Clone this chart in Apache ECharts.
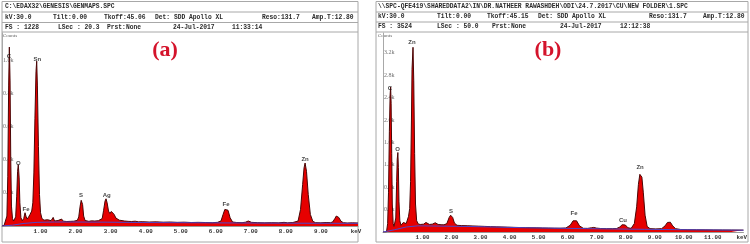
<!DOCTYPE html>
<html><head><meta charset="utf-8">
<script src="https://cdn.jsdelivr.net/npm/echarts@6/dist/echarts.min.js"></script>
<style>html,body{margin:0;padding:0;background:#fff}#c{width:750px;height:244px}</style>
</head><body><div id="c"></div>
<script>
// ---------- Panel (a) data ----------
const energyA = [0.00,0.06,0.11,0.14,0.165,0.19,0.21,0.23,0.25,0.27,0.30,0.33,0.36,0.39,0.42,0.445,0.465,0.49,0.51,0.54,0.58,0.62,0.657,0.69,0.72,0.76,0.80,0.848,0.88,0.91,0.94,0.97,0.99,1.01,1.04,1.07,1.10,1.14,1.20,1.25,1.30,1.35,1.40,1.46,1.50,1.55,1.60,1.65,1.70,1.75,1.80,1.85,1.90,1.95,2.00,2.05,2.10,2.15,2.19,2.23,2.26,2.275,2.30,2.33,2.37,2.42,2.48,2.55,2.60,2.65,2.70,2.75,2.80,2.86,2.90,2.94,2.969,3.00,3.04,3.08,3.12,3.16,3.20,3.25,3.30,3.35,3.40,3.50,3.60,3.70,3.80,3.90,4.00,4.20,4.40,4.60,4.80,5.00,5.20,5.40,5.60,5.80,6.00,6.15,6.25,6.31,6.36,6.40,6.45,6.51,6.58,6.70,6.85,6.95,7.03,7.12,7.30,7.50,7.70,7.90,8.05,8.15,8.30,8.45,8.52,8.58,8.62,8.65,8.69,8.74,8.80,8.87,8.95,9.10,9.25,9.38,9.44,9.50,9.54,9.57,9.61,9.67,9.74,9.85,10.00,10.16];
const countsA = [0,4,12,60,300,850,1079,880,400,120,45,30,32,55,180,330,370,290,140,50,32,45,80,55,42,55,70,90,140,320,650,930,994,850,480,190,80,45,35,30,38,28,32,52,30,28,33,30,42,29,31,27,30,28,32,29,27,34,55,120,155,158,130,60,33,30,28,31,27,30,29,32,35,45,95,150,164,140,90,75,88,92,70,48,38,35,33,30,28,27,29,25,26,24,25,23,24,22,23,21,22,21,20,22,30,70,100,107,95,50,24,21,20,23,30,22,20,19,20,19,22,19,21,30,100,250,350,380,330,190,70,28,20,19,21,20,25,45,60,62,52,30,20,18,19,18];
const bgEnergyA = [0,0.3,0.6,1.0,1.5,2.0,3.0,4.0,6.0,8.0,10.16];
const bgCountsA = [0,5,15,22,24,24,23,21,19,17,16];
const peakNamesA = ['C','Sn','O','Fe','S','Ag','Fe','Zn'];
const peakEnergyA = [0.20,1.01,0.465,0.685,2.255,2.99,6.394,8.65];
const peakLabelCountsA = [1022,1006,380,101,182,184,133,404];
const xTickValuesA = [1,2,3,4,5,6,7,8,9,10];
const xTickLabelsA = ['1.00','2.00','3.00','4.00','5.00','6.00','7.00','8.00','9.00','keV'];
const yTickValuesA = [200,400,600,800,1000];
const yTickLabelsA = ['0.2k','0.4k','0.6k','0.8k','1.0k'];
const headerA = [
  ['C:\\EDAX32\\GENESIS\\GENMAPS.SPC'],
  ['kV:30.0','Tilt:0.00','Tkoff:45.06','Det: SDD Apollo XL','Reso:131.7','Amp.T:12.80'],
  ['FS : 1228','LSec : 20.3','Prst:None','24-Jul-2017','11:33:14']
];

// ---------- Panel (b) data ----------
const energyB = [0.00,0.12,0.16,0.19,0.22,0.245,0.263,0.28,0.30,0.32,0.35,0.38,0.41,0.44,0.47,0.49,0.512,0.53,0.55,0.58,0.62,0.66,0.70,0.727,0.76,0.80,0.84,0.88,0.92,0.95,0.98,1.00,1.034,1.06,1.09,1.12,1.16,1.22,1.30,1.40,1.48,1.54,1.60,1.70,1.80,1.85,1.90,2.00,2.10,2.20,2.28,2.33,2.364,2.40,2.46,2.55,2.70,2.90,3.10,3.30,3.50,3.70,3.90,4.10,4.30,4.50,4.70,4.90,5.10,5.30,5.50,5.70,5.90,6.10,6.30,6.45,6.55,6.61,6.67,6.77,6.90,7.05,7.18,7.26,7.35,7.50,7.70,7.90,8.05,8.16,8.24,8.29,8.35,8.44,8.55,8.66,8.74,8.80,8.85,8.88,8.92,8.97,9.03,9.10,9.20,9.40,9.60,9.72,9.80,9.85,9.90,9.98,10.08,10.25,10.50,10.80,11.10,11.40,11.70,12.00,12.42];
const countsB = [0,0,150,700,1800,2450,2590,2300,1400,500,150,100,110,250,900,1300,1420,1150,550,200,120,130,170,190,160,150,180,280,420,900,2000,2900,3300,2700,1400,500,200,140,135,140,170,180,135,140,165,175,135,130,128,150,260,300,300,260,160,120,115,112,108,104,100,96,92,90,86,83,80,78,76,74,72,70,68,67,72,120,200,230,200,110,66,65,75,82,70,62,60,60,62,90,130,140,125,75,65,150,450,850,1030,1060,980,700,300,100,60,55,60,110,170,190,175,110,60,45,42,40,38,37,36,35,34];
const bgEnergyB = [0,0.4,0.8,1.2,2.0,3.0,5.0,7.0,9.0,10.5,12.42];
const bgCountsB = [0,40,90,110,105,98,75,60,48,40,32];
const peakNamesB = ['Zn','C','O','S','Fe','Cu','Zn'];
const peakEnergyB = [1.0,0.239,0.50,2.344,6.585,8.267,8.857];
const peakLabelCountsB = [3390,2562,1472,377,336,215,1162];
const xTickValuesB = [1,2,3,4,5,6,7,8,9,10,11,12];
const xTickLabelsB = ['1.00','2.00','3.00','4.00','5.00','6.00','7.00','8.00','9.00','10.00','11.00','keV'];
const yTickValuesB = [400,800,1200,1600,2000,2400,2800,3200];
const yTickLabelsB = ['0.4k','0.8k','1.2k','1.6k','2.0k','2.4k','2.8k','3.2k'];
const headerB = [
  ['\\\\SPC-QFE419\\SHAREDDATA2\\IN\\DR.NATHEER RAWASHDEH\\ODI\\24.7.2017\\CU\\NEW FOLDER\\1.SPC'],
  ['kV:30.0','Tilt:0.00','Tkoff:45.15','Det: SDD Apollo XL','Reso:131.7','Amp.T:12.80'],
  ['FS : 3524','LSec : 50.0','Prst:None','24-Jul-2017','12:12:38']
];

// ---------- build ----------
const zip = (a, b) => a.map((v, i) => [v, b[i]]);
const lookup = (vals, labels) => v => { const i = vals.findIndex(t => Math.abs(t - v) < 1e-6); return i >= 0 ? labels[i] : ''; };

const monoFont = '"Liberation Mono", "DejaVu Sans Mono", monospace';
const borderColor = '#a8a8a8';

function headerGraphics(header, colsX, rowsY, x0, x1, linesY) {
  const g = [];
  g.push({type:'rect', shape:{x:x0, y:linesY[0], width:x1-x0, height:242-linesY[0]}, style:{fill:'none', stroke:borderColor, lineWidth:1}, silent:true});
  for (let i = 1; i < linesY.length; i++) {
    g.push({type:'line', shape:{x1:x0, y1:linesY[i], x2:x1, y2:linesY[i]}, style:{stroke:borderColor, lineWidth:1}, silent:true});
  }
  header.forEach((row, r) => {
    row.forEach((txt, c) => {
      g.push({type:'text', x:colsX[r][c], y:rowsY[r], style:{text:txt, font:'bold 6.3px ' + monoFont, fill:'#2a2a2a', textVerticalAlign:'middle'}, silent:true});
    });
  });
  return g;
}

const graphics = []
  .concat(headerGraphics(headerA, [[5],[5,53,104,155,262,312],[5,58,107,173,232]], [6.8,17.3,27.3], 2, 358, [1.5,12,22.5,32]))
  .concat(headerGraphics(headerB, [[378],[378,437,487,538,649,703],[378,437,492,560,620]], [6.5,16.8,26.8], 376, 748, [1.5,12,22,32]))
  .concat([
    {type:'text', x:3, y:36, style:{text:'Counts', font:'5px "Liberation Serif", serif', fill:'#666', textVerticalAlign:'middle'}, silent:true},
    {type:'text', x:378, y:35.5, style:{text:'Counts', font:'5px "Liberation Serif", serif', fill:'#666', textVerticalAlign:'middle'}, silent:true},
    {type:'text', x:165, y:50, style:{text:'(a)', font:'bold 22px "Liberation Serif", "Times New Roman", serif', fill:'#d4132b', textAlign:'center', textVerticalAlign:'middle'}, silent:true},
    {type:'text', x:548, y:50, style:{text:'(b)', font:'bold 22px "Liberation Serif", "Times New Roman", serif', fill:'#d4132b', textAlign:'center', textVerticalAlign:'middle'}, silent:true}
  ]);

function xAxisCfg(grid, max, vals, labels, shift) {
  return {
    type:'value', gridIndex:grid, min:0, max:max,
    axisLine:{show:true, lineStyle:{color:'#9a9a9a', width:1}},
    axisTick:{show:true, length:2, inside:true, customValues:vals, lineStyle:{color:'#9a9a9a'}},
    splitLine:{show:false},
    axisLabel:{customValues:vals, formatter:lookup(vals, labels), margin:3, fontSize:5.8, fontWeight:'bold', fontFamily:'"Liberation Mono", monospace', color:'#333', padding:[0,0,0,shift*2]}
  };
}
function yAxisCfg(grid, max, vals, labels) {
  return {
    type:'value', gridIndex:grid, min:0, max:max,
    axisLine:{show:true, lineStyle:{color:'#a8a8a8'}},
    axisTick:{show:false},
    splitLine:{show:false},
    axisLabel:{inside:true, customValues:vals, formatter:lookup(vals, labels), fontSize:6, fontFamily:'"Liberation Serif", serif', color:'#707070', margin:1, padding:[4,0,0,0]}
  };
}

function spectrum(idx, e, c) {
  return {type:'line', xAxisIndex:idx, yAxisIndex:idx, data:zip(e, c), showSymbol:false, symbol:'none',
    lineStyle:{color:'#4a0606', width:1}, areaStyle:{color:'#e60000', opacity:1}, z:2, animation:false};
}
function bgLine(idx, e, c) {
  return {type:'line', xAxisIndex:idx, yAxisIndex:idx, data:zip(e, c), showSymbol:false, symbol:'none',
    lineStyle:{color:'#5046c8', width:1}, z:3, animation:false};
}
function peakLabels(idx, names, e, c) {
  return {type:'scatter', xAxisIndex:idx, yAxisIndex:idx, data:zip(e, c), symbolSize:1, itemStyle:{color:'rgba(0,0,0,0)'},
    label:{show:true, position:'inside', formatter:p => names[p.dataIndex], fontSize:6, fontWeight:'bold', fontFamily:'"Liberation Sans", Arial, sans-serif', color:'#111'},
    z:5, animation:false, silent:true};
}

const chart = echarts.init(document.getElementById('c'), null, {renderer:'canvas'});
chart.setOption({
  animation:false,
  backgroundColor:'#fff',
  grid:[
    {left:2, top:33, width:356, height:193},
    {left:383, top:33, width:364, height:199}
  ],
  xAxis:[xAxisCfg(0, 10.16, xTickValuesA, xTickLabelsA, 3.5), xAxisCfg(1, 12.42, xTickValuesB, xTickLabelsB, 10.5)],
  yAxis:[yAxisCfg(0, 1164, yTickValuesA, yTickLabelsA), yAxisCfg(1, 3555, yTickValuesB, yTickLabelsB)],
  series:[
    spectrum(0, energyA, countsA), bgLine(0, bgEnergyA, bgCountsA), peakLabels(0, peakNamesA, peakEnergyA, peakLabelCountsA),
    spectrum(1, energyB, countsB), bgLine(1, bgEnergyB, bgCountsB), peakLabels(1, peakNamesB, peakEnergyB, peakLabelCountsB)
  ],
  graphic:graphics
});
</script>
</body></html>
